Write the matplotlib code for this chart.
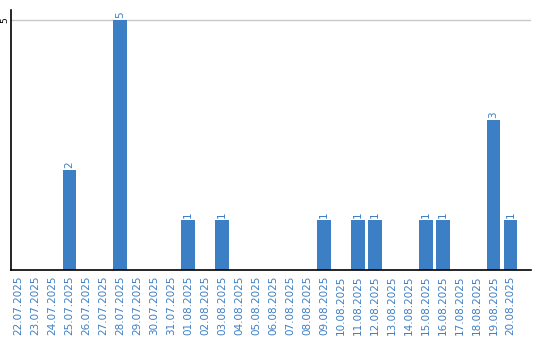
import matplotlib
matplotlib.use('Agg')
import matplotlib.pyplot as plt
import numpy as np

# dates shown on the x axis (22.07.2025 - 20.08.2025)
dates = ['22.07.2025', '23.07.2025', '24.07.2025', '25.07.2025', '26.07.2025',
         '27.07.2025', '28.07.2025', '29.07.2025', '30.07.2025', '31.07.2025',
         '01.08.2025', '02.08.2025', '03.08.2025', '04.08.2025', '05.08.2025',
         '06.08.2025', '07.08.2025', '08.08.2025', '09.08.2025', '10.08.2025',
         '11.08.2025', '12.08.2025', '13.08.2025', '14.08.2025', '15.08.2025',
         '16.08.2025', '17.08.2025', '18.08.2025', '19.08.2025', '20.08.2025']
counts = [0, 0, 0, 2, 0,
          0, 5, 0, 0, 0,
          1, 0, 1, 0, 0,
          0, 0, 0, 1, 0,
          1, 1, 0, 0, 1,
          1, 0, 0, 3, 1]

blue = '#3d7fc4'
x = np.arange(len(dates))

fig = plt.figure(figsize=(5.4, 3.4), dpi=100)
ax = fig.add_axes([0.0204, 0.206, 0.9626, 0.765])

ax.axhline(5, color='#c8c8c8', lw=1, zorder=0)
ax.bar(x, counts, width=0.82, color=blue, zorder=2)
for xi, c in zip(x, counts):
    if c > 0:
        ax.text(xi, c + 0.04, str(c), rotation=90, ha='center', va='bottom',
                color=blue, fontsize=7.5)

ax.set_xlim(-0.45, 30.2)
ax.set_ylim(0, 5.2)
ax.set_xticks(x)
ax.set_xticklabels(dates, rotation=90, color=blue, fontsize=7.5)
ax.set_yticks([5])
ax.set_yticklabels(['5'], rotation=90, fontsize=6.5, va='center')
ax.tick_params(axis='x', length=0, pad=4)
ax.tick_params(axis='y', length=0, pad=1)
for s in ['top', 'right']:
    ax.spines[s].set_visible(False)
ax.spines['left'].set_linewidth(1.2)
ax.spines['bottom'].set_linewidth(1.2)

fig.savefig('out.png', dpi=100)
